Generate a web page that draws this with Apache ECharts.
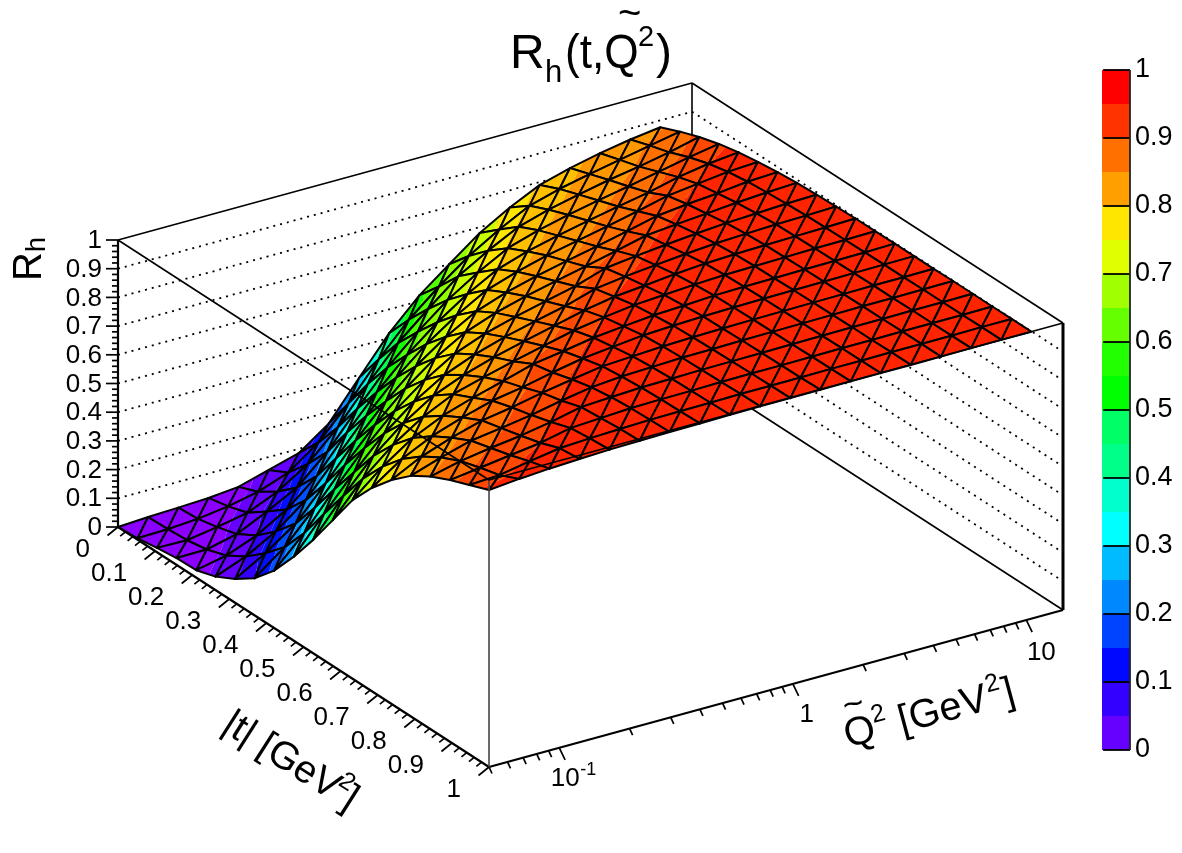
<!DOCTYPE html>
<html>
<head>
<meta charset="utf-8">
<title>R_h(t, Q2) surface</title>
<style>html,body{margin:0;padding:0;background:#fff}#chart{width:1182px;height:853px}</style>
<script src="https://cdn.jsdelivr.net/npm/echarts@6/dist/echarts.min.js"></script>
</head>
<body>
<div id="chart"></div>
<script>
// |t| grid in GeV^2
const tValues = [0,.053,.105,.158,.211,.263,.316,.368,.421,.474,.526,.579,.632,.684,.737,.789,.842,.895,.947,1];
// Q^2 grid in GeV^2
const q2Values = [.05,.0673,.0906,.122,.164,.221,.297,.4,.539,.725,.976,1.31,1.77,2.38,3.2,4.31,5.8,7.81,10.5];
// R_h per Q^2 row, one entry per |t| grid point
const rhByQ2 = [
  [0,.005,.015,.024,.026,.047,.083,.129,.2,.293,.395,.508,.622,.708,.78,.838,.88,.912,.938,.965],
  [.006,.008,.013,.025,.048,.088,.144,.209,.302,.413,.519,.624,.71,.78,.833,.873,.905,.926,.944,.975],
  [.01,.015,.03,.05,.089,.147,.218,.317,.426,.53,.63,.713,.781,.831,.87,.903,.922,.941,.963,.982],
  [.015,.03,.051,.1,.151,.228,.33,.438,.541,.636,.716,.782,.83,.867,.901,.918,.936,.955,.98,.987],
  [.025,.052,.096,.155,.239,.344,.451,.549,.641,.719,.783,.832,.864,.897,.918,.935,.955,.978,.986,.991],
  [.055,.09,.163,.25,.362,.463,.559,.646,.721,.783,.826,.862,.893,.915,.94,.956,.978,.984,.99,.993],
  [.085,.166,.262,.372,.475,.568,.652,.724,.784,.825,.859,.889,.924,.938,.958,.974,.984,.99,.993,.995],
  [.16,.274,.385,.487,.575,.656,.726,.785,.825,.857,.886,.914,.94,.958,.975,.983,.989,.992,.994,.996],
  [.29,.399,.499,.582,.66,.728,.786,.824,.854,.883,.911,.939,.958,.97,.981,.987,.991,.993,.995,.997],
  [.417,.508,.589,.665,.73,.787,.823,.853,.88,.907,.936,.956,.969,.981,.987,.991,.993,.995,.997,.998],
  [.52,.595,.674,.732,.787,.822,.851,.877,.904,.939,.955,.97,.979,.986,.99,.992,.994,.996,.997,.998],
  [.6,.673,.735,.788,.821,.85,.875,.9,.938,.953,.965,.977,.984,.99,.992,.994,.995,.996,.997,.999],
  [.68,.736,.789,.821,.847,.872,.897,.925,.951,.964,.976,.984,.99,.992,.994,.995,.996,.997,.998,.999],
  [.74,.79,.82,.846,.87,.894,.921,.95,.962,.974,.984,.989,.992,.994,.995,.996,.997,.998,.998,.999],
  [.79,.82,.844,.868,.891,.918,.946,.96,.972,.982,.988,.991,.993,.995,.996,.997,.998,.998,.999,.999],
  [.82,.843,.866,.888,.911,.943,.958,.969,.98,.987,.991,.993,.995,.996,.997,.998,.998,.999,.999,.999],
  [.843,.864,.884,.91,.936,.956,.967,.978,.985,.991,.993,.995,.996,.997,.998,.998,.999,.999,.999,1],
  [.862,.885,.905,.932,.954,.969,.979,.985,.99,.993,.995,.996,.997,.998,.998,.999,.999,.999,1,1],
  [.876,.905,.93,.95,.965,.975,.984,.99,.993,.996,.998,.998,.999,.999,.999,1,1,1,1,1]
];
// Colour of each 0.05 wide band on the palette axis, from 0 upwards
const barColors = ['#6600FF','#3300FF','#0008FF','#0044FF','#0088FF','#00BBFF','#00FFFF','#00FFCC','#00FF88','#00FF66',
                   '#00FF00','#22FF00','#66FF00','#A0FF00','#E0FF00','#FFE600','#FFA000','#FF7000','#FF3300','#FF0000'];
const bandWidth = 0.05;
// Fill bands on the surface: lower bound of each band, then its colour
const surfaceLevels = [0,.04,.09,.13,.18,.23,.28,.33,.38,.43,.48,.54,.6,.66,.72,.78,.83,.88,.92,.955,1.01];
const surfaceColors = ['#8C00FF','#6600FF','#3300FF','#0010FF','#0050FF','#0090FF','#00D0FF','#00FFE0','#00FF90','#00FF50',
                       '#10FF00','#50FF00','#90FF00','#C8FF00','#FFE600','#FFC000','#FF9800','#FF7000','#FF4800','#FF2400'];

const tTickLabels = ['0','0.1','0.2','0.3','0.4','0.5','0.6','0.7','0.8','0.9','1'];
const rTickLabels = ['0','0.1','0.2','0.3','0.4','0.5','0.6','0.7','0.8','0.9','1'];
const q2MinorTicks = [.05,.06,.07,.08,.09,.2,.3,.4,.5,.6,.7,.8,.9,2,3,4,5,6,7,8,9];
const q2MajorTicks = [.1,1,10];

// Box extent of the three axes
const logQMin = Math.log10(0.05), logQMax = Math.log10(14.35);
const FONT = '"Liberation Sans", Arial, sans-serif';

// Oblique projection of (|t|, log10 Q^2, R_h) on the hidden page-sized axes
const ORIGIN = [118, 527], T_VEC = [371, 240], Q_VEC = [574, -157], R_VEC = [0, -287];
function project(t, lq, r) {
  const u = (lq - logQMin) / (logQMax - logQMin);
  return [ORIGIN[0] + t * T_VEC[0] + u * Q_VEC[0] + r * R_VEC[0],
          ORIGIN[1] + t * T_VEC[1] + u * Q_VEC[1] + r * R_VEC[1]];
}

// Cuts a polygon of [t, logQ, R] vertices to the part with R on the wanted side of a level
function clipToLevel(poly, level, keepAbove) {
  const out = [];
  for (let k = 0; k < poly.length; k++) {
    const a = poly[k], b = poly[(k + 1) % poly.length];
    const ina = keepAbove ? a[2] >= level : a[2] <= level;
    const inb = keepAbove ? b[2] >= level : b[2] <= level;
    if (ina) out.push(a);
    if (ina !== inb) {
      const f = (level - a[2]) / (b[2] - a[2]);
      out.push([a[0] + f * (b[0] - a[0]), a[1] + f * (b[1] - a[1]), level]);
    }
  }
  return out;
}

// Triangles ordered from the far corner (|t| low, Q^2 high) to the near one
const triangles = [];
for (let i = 0; i < tValues.length - 1; i++) {
  for (let j = q2Values.length - 2; j >= 0; j--) {
    triangles.push([i, j, 0]);
    triangles.push([i, j, 1]);
  }
}
function vertex(i, j) { return [tValues[i], Math.log10(q2Values[j]), rhByQ2[j][i]]; }

// Line segments of the box: t1, logQ1, r1, t2, logQ2, r2, style
const SOLID = 0, DOTTED = 1, HEAVY = 2, GREY = 3, THICK = 4;
const backSegments = [];
for (let k = 1; k < rTickLabels.length - 1; k++) {
  const r = +rTickLabels[k];
  backSegments.push([0, logQMin, r, 0, logQMax, r, DOTTED]);
  backSegments.push([0, logQMax, r, 1, logQMax, r, DOTTED]);
}
backSegments.push(
  [0, logQMin, 0, 0, logQMax, 0, SOLID],
  [0, logQMax, 0, 1, logQMax, 0, SOLID],
  [0, logQMax, 0, 0, logQMax, 1, SOLID],
  [0, logQMin, 1, 0, logQMax, 1, SOLID],
  [0, logQMax, 1, 1, logQMax, 1, SOLID],
  [0, logQMin, 0, 0, logQMin, 1, HEAVY],
  [1, logQMax, 0, 1, logQMax, 1, THICK]
);
const frontSegments = [
  [0, logQMin, 0, 1, logQMin, 0, HEAVY],
  [1, logQMin, 0, 1, logQMax, 0, HEAVY],
  [1, logQMin, 0, 1, logQMin, 1, GREY],
  [0, logQMin, 1, 1, logQMin, 1, SOLID],
  [1, logQMin, 1, 1, logQMax, 1, SOLID]
];
const segmentStyles = [
  { stroke: '#000', lineWidth: 1.6 },
  { stroke: '#000', lineWidth: 1.8, lineDash: [2, 5] },
  { stroke: '#000', lineWidth: 2.2 },
  { stroke: '#444', lineWidth: 1.6 },
  { stroke: '#000', lineWidth: 3 }
];

// Tick marks: t, logQ, r, dx, dy in pixels
const tickRows = [];
for (let k = 0; k <= 50; k++) {
  const major = k % 5 === 0, s = major ? 1 : 0.5;
  tickRows.push([k / 50, logQMin, 0, -10.5 * s, 8.5 * s]);
  tickRows.push([0, logQMin, k / 50, -(major ? 12 : 6), 0]);
}
q2MinorTicks.forEach(q => tickRows.push([1, Math.log10(q), 0, 3, 6.5]));
q2MajorTicks.forEach(q => tickRows.push([1, Math.log10(q), 0, 5.8, 12]));

function lineEl(p, q, style) {
  return { type: 'line', shape: { x1: p[0], y1: p[1], x2: q[0], y2: q[1] }, style: style, silent: true };
}
function textEl(text, x, y, size, align, scaleX) {
  return { type: 'text', x: x, y: y, scaleX: scaleX || 1, silent: true,
    style: { text: text, fontSize: size, fontFamily: FONT, fill: '#000', align: align || 'center', verticalAlign: 'middle' } };
}

function renderSegment(params, api) {
  const p = api.coord(project(api.value(0), api.value(1), api.value(2)));
  const q = api.coord(project(api.value(3), api.value(4), api.value(5)));
  return lineEl(p, q, segmentStyles[api.value(6)]);
}
function renderTick(params, api) {
  const p = api.coord(project(api.value(0), api.value(1), api.value(2)));
  return lineEl(p, [p[0] + api.value(3), p[1] + api.value(4)], { stroke: '#000', lineWidth: 1.7 });
}
function renderTriangle(params, api) {
  const i = api.value(0), j = api.value(1);
  const poly = api.value(2) === 0
    ? [vertex(i, j), vertex(i + 1, j), vertex(i, j + 1)]
    : [vertex(i + 1, j), vertex(i + 1, j + 1), vertex(i, j + 1)];
  const toScreen = pts => pts.map(v => api.coord(project(v[0], v[1], v[2])));
  const children = [];
  surfaceColors.forEach((color, band) => {
    let part = clipToLevel(poly, surfaceLevels[band], true);
    if (part.length) part = clipToLevel(part, surfaceLevels[band + 1], false);
    if (part.length > 2) {
      children.push({ type: 'polygon', silent: true, shape: { points: toScreen(part) }, style: { fill: color } });
    }
  });
  children.push({ type: 'polygon', silent: true, shape: { points: toScreen(poly) },
    style: { fill: 'none', stroke: '#000', lineWidth: 2, lineJoin: 'round' } });
  return { type: 'group', children: children };
}
function renderLabels(params, api) {
  const at = (t, lq, r) => api.coord(project(t, lq, r));
  const kids = [];
  rTickLabels.forEach(s => {
    const p = at(0, logQMin, +s);
    kids.push(textEl(s, p[0] - 16, p[1] + 1, 26, 'right'));
  });
  tTickLabels.forEach(s => {
    const p = at(+s, logQMin, 0);
    kids.push(textEl(s, p[0] - 28, p[1] + 23, 26, 'right'));
  });
  const q1 = at(1, Math.log10(1), 0), q10 = at(1, Math.log10(10), 0), q01 = at(1, Math.log10(.1), 0);
  kids.push(textEl('1', q1[0] + 14, q1[1] + 31, 26));
  kids.push(textEl('10', q10[0] + 15, q10[1] + 33, 26));
  kids.push(textEl('10', q01[0] + 6, q01[1] + 31, 26));
  kids.push(textEl('-1', q01[0] + 29, q01[1] + 22, 18));

  // Page title
  kids.push(textEl('R', 510, 55, 48, 'left'));
  kids.push(textEl('h', 545, 73, 31, 'left'));
  kids.push(textEl('(t,Q', 565, 55, 48, 'left', 0.92));
  kids.push(textEl('~', 618, 15, 40, 'left'));
  kids.push(textEl('2', 638, 38, 29, 'left'));
  kids.push(textEl(')', 656, 55, 48, 'left'));

  // R_h axis title
  kids.push({ type: 'group', x: 30, y: 281, rotation: Math.PI / 2, silent: true, children: [
    textEl('R', 0, 0, 40, 'left'),
    textEl('h', 29, 8, 27, 'left')
  ] });
  // |t| axis title
  kids.push({ type: 'group', x: 226, y: 721, rotation: -32.5 * Math.PI / 180, silent: true, children: [
    textEl('|t| [GeV', 0, 0, 39, 'left'),
    textEl('2', 128, -13, 25, 'left'),
    textEl(']', 141, 0, 39, 'left')
  ] });
  // Q^2 axis title
  kids.push({ type: 'group', x: 845, y: 737, rotation: 15 * Math.PI / 180, silent: true, children: [
    textEl('Q', 0, 0, 40, 'left'),
    textEl('~', 6, -28, 36, 'left'),
    textEl('2', 31, -13, 25, 'left'),
    textEl('[GeV', 56, 0, 40, 'left'),
    textEl('2', 149, -13, 25, 'left'),
    textEl(']', 164, 0, 40, 'left')
  ] });
  return { type: 'group', children: kids };
}
function renderBand(params, api) {
  const k = api.value(0);
  const a = api.coord([0, k * bandWidth]), b = api.coord([1, (k + 1) * bandWidth]);
  return { type: 'rect', silent: true,
    shape: { x: a[0], y: b[1], width: b[0] - a[0], height: a[1] - b[1] },
    style: { fill: barColors[k] } };
}
// Ticks across the palette and its right-hand edge
function renderBarLine(params, api) {
  const v = api.value(0);
  if (v < 0) return lineEl(api.coord([1, 0]), api.coord([1, 1]), { stroke: '#222', lineWidth: 1.8 });
  return lineEl(api.coord([0.04, v]), api.coord([1, v]), { stroke: '#000', lineWidth: 1.8 });
}

const chart = echarts.init(document.getElementById('chart'), null, { renderer: 'canvas' });
const page = { xAxisIndex: 0, yAxisIndex: 0, type: 'custom', coordinateSystem: 'cartesian2d', clip: false, silent: true, progressive: 0, animation: false };
chart.setOption({
  backgroundColor: '#fff',
  animation: false,
  grid: [
    { left: 0, top: 0, width: 1182, height: 853 },
    { left: 1102, top: 70, width: 28, height: 680 }
  ],
  xAxis: [
    { type: 'value', gridIndex: 0, min: 0, max: 1182, show: false },
    { type: 'value', gridIndex: 1, min: 0, max: 1, show: false }
  ],
  yAxis: [
    { type: 'value', gridIndex: 0, min: 0, max: 853, inverse: true, show: false },
    { type: 'value', gridIndex: 1, min: 0, max: 1, interval: 0.1, position: 'right',
      axisLine: { show: false }, axisTick: { show: false }, splitLine: { show: false },
      axisLabel: { show: true, margin: 5, fontSize: 27, fontFamily: FONT, color: '#000' } }
  ],
  series: [
    Object.assign({}, page, { name: 'box back', z: 1, data: backSegments, renderItem: renderSegment }),
    Object.assign({}, page, { name: 'R_h', z: 2, data: triangles, renderItem: renderTriangle }),
    Object.assign({}, page, { name: 'box front', z: 3, data: frontSegments, renderItem: renderSegment }),
    Object.assign({}, page, { name: 'ticks', z: 3, data: tickRows, renderItem: renderTick }),
    Object.assign({}, page, { name: 'labels', z: 4, data: [[0, 0]], renderItem: renderLabels }),
    Object.assign({}, page, { name: 'palette', xAxisIndex: 1, yAxisIndex: 1, z: 1, data: barColors.map((c, k) => [k, 0]), renderItem: renderBand }),
    Object.assign({}, page, { name: 'palette ticks', xAxisIndex: 1, yAxisIndex: 1, z: 2,
      data: rTickLabels.map(s => [+s, 0]).concat([[-1, 0]]), renderItem: renderBarLine })
  ]
});
</script>
</body>
</html>
